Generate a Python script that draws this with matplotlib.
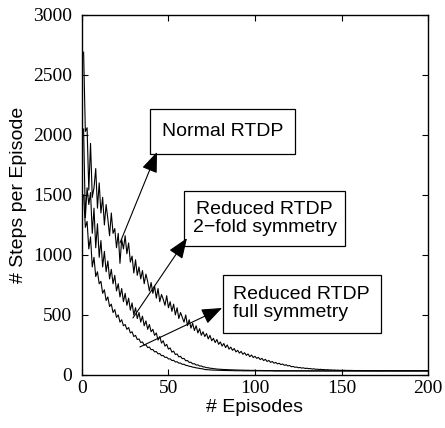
import matplotlib
matplotlib.use("Agg")
import matplotlib.pyplot as plt
from matplotlib.patches import Rectangle
import numpy as np

# values, one per episode (1..200)
normal_rtdp = [
    2690, 2030, 2060, 1540, 1930, 1480, 1560, 1720, 1390, 1600,
    1350, 1480, 1250, 1420, 1300, 1160, 1350, 1180, 1220, 1060,
    1180, 930, 1130, 1050, 1160, 1010, 1100, 940, 990, 850,
    960, 830, 900, 800, 870, 760, 840, 780, 700, 770,
    680, 740, 640, 720, 610, 670, 630, 580, 660, 560,
    610, 530, 590, 500, 560, 470, 520, 480, 440, 500,
    410, 460, 390, 430, 370, 410, 350, 385, 330, 360,
    320, 345, 300, 330, 285, 305, 270, 295, 255, 275,
    240, 262, 228, 250, 215, 232, 205, 220, 192, 205,
    182, 196, 172, 185, 163, 175, 152, 166, 145, 155,
    138, 146, 128, 138, 120, 130, 112, 121, 105, 112,
    98, 104, 92, 97, 86, 91, 80, 85, 75, 79,
    68, 71, 64, 66, 60, 62, 57, 59, 54, 56,
    52, 53, 49, 51, 47, 48, 45, 47, 44, 45,
    42, 44, 41, 42, 40, 41, 39, 40, 38, 39,
    38, 39, 37, 38, 37, 38, 36, 37, 36, 37,
    36, 37, 35, 36, 36, 35, 36, 35, 36, 35,
    35, 36, 35, 35, 36, 35, 35, 36, 35, 35,
    35, 35, 36, 35, 35, 35, 36, 35, 35, 35,
    35, 36, 35, 35, 35, 35, 36, 35, 35, 35,
]

reduced_2fold = [
    2050, 1310, 1560, 1420, 1520, 1180, 1390, 1060, 1260, 980,
    1120, 900, 1030, 860, 950, 800, 880, 760, 830, 700,
    760, 650, 720, 610, 680, 580, 640, 540, 600, 500,
    560, 470, 520, 440, 490, 410, 450, 380, 420, 360,
    380, 330, 350, 290, 320, 265, 285, 240, 255, 215,
    225, 190, 198, 170, 175, 150, 155, 135, 138, 118,
    120, 104, 106, 92, 94, 82, 84, 74, 75, 67,
    66, 60, 60, 56, 55, 52, 51, 49, 48, 47,
    46, 45, 45, 44, 43, 43, 42, 42, 41, 41,
    40, 40, 40, 39, 39, 39, 38, 38, 38, 38,
    37, 37, 37, 37, 36, 36, 36, 36, 36, 36,
    35, 35, 35, 35, 35, 35, 35, 35, 35, 35,
    35, 35, 35, 34, 35, 34, 35, 34, 35, 34,
    34, 34, 34, 34, 34, 34, 34, 34, 34, 34,
    34, 34, 34, 34, 34, 34, 34, 34, 34, 34,
    34, 34, 34, 34, 34, 34, 34, 34, 34, 34,
    34, 34, 34, 34, 34, 34, 34, 34, 34, 34,
    34, 34, 34, 34, 34, 34, 34, 34, 34, 34,
    34, 34, 34, 34, 34, 34, 34, 34, 34, 34,
    34, 34, 34, 34, 34, 34, 34, 34, 34, 34,
]

reduced_full = [
    1500, 1230, 1280, 1050, 1150, 900, 980, 820, 860, 760,
    780, 680, 710, 620, 650, 570, 590, 520, 545, 480,
    500, 440, 460, 410, 420, 380, 395, 350, 360, 320,
    330, 295, 300, 270, 275, 248, 252, 228, 232, 210,
    212, 192, 195, 176, 178, 160, 162, 146, 148, 133,
    134, 120, 122, 108, 110, 98, 99, 88, 89, 80,
    78, 72, 70, 65, 63, 59, 57, 54, 52, 50,
    45, 44, 43, 42, 41, 40, 40, 39, 39, 38,
    38, 37, 37, 37, 36, 36, 36, 35, 35, 35,
    35, 35, 34, 34, 34, 34, 34, 34, 34, 34,
    34, 34, 34, 34, 34, 34, 34, 34, 34, 34,
    33, 33, 33, 33, 33, 33, 33, 33, 33, 33,
    33, 33, 33, 33, 33, 33, 33, 33, 33, 33,
    33, 33, 33, 33, 33, 33, 33, 33, 33, 33,
    33, 33, 33, 33, 33, 33, 33, 33, 33, 33,
    33, 33, 33, 33, 33, 33, 33, 33, 33, 33,
    33, 33, 33, 33, 33, 33, 33, 33, 33, 33,
    33, 33, 33, 33, 33, 33, 33, 33, 33, 33,
    33, 33, 33, 33, 33, 33, 33, 33, 33, 33,
    33, 33, 33, 33, 33, 33, 33, 33, 33, 33,
]

x_ticks = [0, 50, 100, 150, 200]
y_ticks = [0, 500, 1000, 1500, 2000, 2500, 3000]

SERIF = "Liberation Serif"
SANS = "Liberation Sans"


def add_box(ax, x0, y0, x1, y1, text, text_x=None):
    ax.add_patch(Rectangle((x0, y0), x1 - x0, y1 - y0, transform=ax.transAxes,
                           facecolor="white", edgecolor="black", lw=0.9, zorder=4))
    if text_x is None:
        ax.text((x0 + x1) / 2, (y0 + y1) / 2, text, transform=ax.transAxes,
                ha="center", va="center", fontsize=14, family=SANS,
                linespacing=1.1, zorder=5)
    else:
        ax.text(text_x, (y0 + y1) / 2, text, transform=ax.transAxes,
                ha="left", va="center", fontsize=14, family=SANS,
                linespacing=1.1, zorder=5)


def main():
    fig = plt.figure(figsize=(4.45, 4.28), dpi=100)
    ax = fig.add_axes([0.184, 0.124, 0.778, 0.841])

    episodes = np.arange(1, len(normal_rtdp) + 1)
    for series in (normal_rtdp, reduced_2fold, reduced_full):
        ax.plot(episodes, series, color="black", lw=0.8)

    ax.set_xlim(0, 200)
    ax.set_ylim(0, 3000)
    ax.set_xticks(x_ticks)
    ax.set_yticks(y_ticks)
    ax.set_xticklabels([str(v) for v in x_ticks], family=SERIF, fontsize=14)
    ax.set_yticklabels([str(v) for v in y_ticks], family=SERIF, fontsize=14)
    ax.tick_params(direction="in", top=True, right=True, length=4, width=0.8)
    ax.tick_params(axis="y", pad=7)
    ax.tick_params(axis="x", pad=4)
    for spine in ax.spines.values():
        spine.set_linewidth(1.0)

    ax.set_xlabel("# Episodes", family=SANS, fontsize=14, labelpad=1)
    ax.set_ylabel("# Steps per Episode", family=SANS, fontsize=14, labelpad=4)

    # text boxes (axes fractions)
    add_box(ax, 0.197, 0.615, 0.616, 0.740, "Normal RTDP")
    add_box(ax, 0.295, 0.357, 0.760, 0.512, "Reduced RTDP\n2\u2212fold symmetry")
    add_box(ax, 0.408, 0.117, 0.864, 0.278, "Reduced RTDP\nfull symmetry",
            text_x=0.436)

    arrow = dict(arrowstyle="-|>,head_length=0.9,head_width=0.35",
                 color="black", lw=0.8, mutation_scale=14, shrinkA=0, shrinkB=0)
    ax.annotate("", xy=(43.4, 1858), xytext=(22, 1100), arrowprops=arrow, zorder=6)
    ax.annotate("", xy=(60.7, 1140), xytext=(29.5, 475), arrowprops=arrow, zorder=6)
    ax.annotate("", xy=(81, 558), xytext=(33.5, 233), arrowprops=arrow, zorder=6)

    plt.savefig("out.png", dpi=100)
    plt.close()


if __name__ == "__main__":
    main()
